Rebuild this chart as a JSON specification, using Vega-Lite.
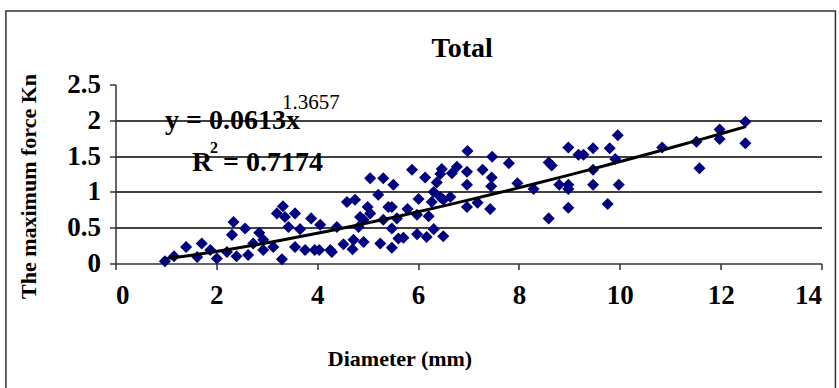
{
  "$schema": "https://vega.github.io/schema/vega-lite/v6.json",
  "autosize": {"type": "none"},
  "padding": {"left": 115.5, "top": 84.5, "right": 17.5, "bottom": 124.5},
  "width": 706,
  "height": 179,
  "config": {
    "view": {"stroke": null},
    "font": "Liberation Serif",
    "axis": {
      "labelFont": "Liberation Serif", "labelFontWeight": "bold", "labelFontSize": 27, "labelColor": "black",
      "titleFont": "Liberation Serif", "titleFontWeight": "bold", "titleFontSize": 22, "titleColor": "black",
      "domainColor": "#333", "domainWidth": 1.5, "tickColor": "#333", "tickWidth": 1.5, "tickSize": 6,
      "labelOverlap": false, "format": "~g"
    }
  },
  "datasets": {
    "one": [{}],
    "pts": [
      {"d":0.98,"f":0.03},{"d":1.16,"f":0.10},{"d":1.40,"f":0.23},{"d":1.62,"f":0.09},{"d":1.71,"f":0.28},{"d":1.88,"f":0.19},{"d":2.01,"f":0.07},{"d":2.21,"f":0.16},{"d":2.34,"f":0.58},{"d":2.31,"f":0.40},{"d":2.40,"f":0.10},{"d":2.57,"f":0.49},{"d":2.63,"f":0.12},{"d":2.73,"f":0.28},{"d":2.85,"f":0.43},{"d":2.93,"f":0.19},{"d":2.93,"f":0.33},{"d":3.13,"f":0.23},{"d":3.32,"f":0.80},{"d":3.30,"f":0.06},{"d":3.36,"f":0.65},{"d":3.20,"f":0.70},{"d":3.56,"f":0.70},{"d":3.43,"f":0.51},{"d":3.66,"f":0.48},{"d":3.88,"f":0.63},{"d":3.56,"f":0.23},{"d":3.76,"f":0.19},{"d":3.95,"f":0.19},{"d":4.04,"f":0.19},{"d":4.26,"f":0.19},{"d":4.06,"f":0.54},{"d":4.39,"f":0.51},{"d":4.59,"f":0.86},{"d":4.75,"f":0.89},{"d":4.52,"f":0.27},{"d":4.72,"f":0.33},{"d":4.70,"f":0.20},{"d":4.92,"f":0.30},{"d":4.92,"f":0.61},{"d":4.82,"f":0.51},{"d":5.00,"f":0.79},{"d":5.05,"f":0.70},{"d":5.41,"f":0.79},{"d":5.31,"f":0.61},{"d":5.25,"f":0.28},{"d":5.48,"f":0.22},{"d":5.61,"f":0.35},{"d":5.05,"f":1.19},{"d":5.31,"f":1.19},{"d":5.51,"f":1.10},{"d":5.21,"f":0.96},{"d":4.29,"f":0.16},{"d":4.85,"f":0.65},
      {"d":5.88,"f":1.31},{"d":6.14,"f":1.20},{"d":6.47,"f":1.32},{"d":6.44,"f":1.25},{"d":6.77,"f":1.35},{"d":6.67,"f":1.26},{"d":6.98,"f":1.57},{"d":6.97,"f":1.28},{"d":7.28,"f":1.31},{"d":7.46,"f":1.20},{"d":7.47,"f":1.49},{"d":7.80,"f":1.40},{"d":6.37,"f":1.13},{"d":6.97,"f":1.10},{"d":7.45,"f":1.08},{"d":7.97,"f":1.12},{"d":6.31,"f":1.00},{"d":6.44,"f":0.93},{"d":6.50,"f":0.89},{"d":6.27,"f":0.86},{"d":6.01,"f":0.90},{"d":6.97,"f":0.79},{"d":7.18,"f":0.85},{"d":7.43,"f":0.76},{"d":6.64,"f":0.93},{"d":5.48,"f":0.79},{"d":5.79,"f":0.76},{"d":5.98,"f":0.68},{"d":6.21,"f":0.66},{"d":5.58,"f":0.63},{"d":5.71,"f":0.36},{"d":5.98,"f":0.41},{"d":6.17,"f":0.37},{"d":6.31,"f":0.48},{"d":6.50,"f":0.38},{"d":5.48,"f":0.49},
      {"d":8.29,"f":1.04},{"d":8.59,"f":1.41},{"d":8.65,"f":1.37},{"d":8.98,"f":1.62},{"d":9.18,"f":1.52},{"d":9.28,"f":1.52},{"d":9.47,"f":1.61},{"d":9.80,"f":1.61},{"d":9.96,"f":1.79},{"d":9.91,"f":1.46},{"d":9.47,"f":1.31},{"d":8.80,"f":1.10},{"d":8.98,"f":1.10},{"d":8.98,"f":1.04},{"d":9.47,"f":1.10},{"d":9.98,"f":1.10},{"d":8.98,"f":0.78},{"d":9.76,"f":0.83},{"d":8.59,"f":0.63},{"d":10.84,"f":1.62},{"d":11.52,"f":1.70},{"d":11.58,"f":1.33},{"d":11.98,"f":1.87},{"d":11.98,"f":1.74},{"d":12.49,"f":1.98},{"d":12.49,"f":1.68}
    ]
  },
  "layer": [
    {
      "data": {"name": "pts"},
      "mark": {"type": "point", "shape": "diamond", "filled": true, "size": 145, "color": "#000080", "opacity": 1},
      "encoding": {
        "x": {"field": "d", "type": "quantitative", "scale": {"domain": [0, 14], "nice": false, "zero": false},
          "axis": {"values": [0,2,4,6,8,10,12,14], "grid": false, "title": "Diameter (mm)", "labelPadding": 13, "titleX": 284, "titleY": 94.5, "titleBaseline": "middle", "titleAlign": "center"}},
        "y": {"field": "f", "type": "quantitative", "scale": {"domain": [0, 2.5], "nice": false},
          "axis": {"values": [0,0.5,1,1.5,2,2.5], "tickCount": 6, "labelOverlap": false, "labelFlush": false, "labelBound": false, "format": "~g", "title": "The maximum force Kn", "labelPadding": 9, "labelBaseline": "middle",
            "grid": true, "gridColor": "black", "gridWidth": 1.5,
            "gridOpacity": {"condition": {"test": "datum.value >= 2.5 || datum.value <= 0", "value": 0}, "value": 1},
            "titleX": -87.5, "titleY": 101.5, "titleBaseline": "middle", "titleAlign": "center", "titleAngle": -90}}
      }
    },
    {
      "data": {"name": "one"},
      "mark": {"type": "rect", "fill": null, "stroke": "#333", "strokeWidth": 1.5, "clip": false},
      "encoding": {
        "x": {"datum": -2.173, "type": "quantitative"},
        "x2": {"datum": 14.276},
        "y": {"datum": 3.527, "type": "quantitative"},
        "y2": {"datum": -2.6}
      }
    },
    {
      "data": {"name": "pts"},
      "transform": [{"regression": "f", "on": "d", "method": "pow", "extent": [0.98, 12.5]}],
      "mark": {"type": "line", "color": "black", "strokeWidth": 3},
      "encoding": {
        "x": {"field": "d", "type": "quantitative"},
        "y": {"field": "f", "type": "quantitative"}
      }
    },
    {
      "data": {"name": "one"},
      "mark": {"type": "text", "text": "Total", "align": "center", "baseline": "middle", "font": "Liberation Serif", "fontWeight": "bold", "fontSize": 28, "color": "black"},
      "encoding": {"x": {"datum": 6.875, "type": "quantitative"}, "y": {"datum": 3.0, "type": "quantitative"}}
    },
    {
      "data": {"name": "one"},
      "mark": {"type": "text", "text": "y = 0.0613x", "align": "left", "baseline": "middle", "font": "Liberation Serif", "fontWeight": "bold", "fontSize": 28, "color": "black"},
      "encoding": {"x": {"datum": 0.982, "type": "quantitative"}, "y": {"datum": 1.99, "type": "quantitative"}}
    },
    {
      "data": {"name": "one"},
      "mark": {"type": "text", "text": "1.3657", "align": "left", "baseline": "middle", "font": "Liberation Serif", "fontWeight": "normal", "fontSize": 21, "color": "black"},
      "encoding": {"x": {"datum": 3.30, "type": "quantitative"}, "y": {"datum": 2.24, "type": "quantitative"}}
    },
    {
      "data": {"name": "one"},
      "mark": {"type": "text", "text": "R", "align": "left", "baseline": "middle", "font": "Liberation Serif", "fontWeight": "bold", "fontSize": 28, "color": "black"},
      "encoding": {"x": {"datum": 1.518, "type": "quantitative"}, "y": {"datum": 1.41, "type": "quantitative"}}
    },
    {
      "data": {"name": "one"},
      "mark": {"type": "text", "text": "2", "align": "center", "baseline": "middle", "font": "Liberation Serif", "fontWeight": "bold", "fontSize": 16, "color": "black"},
      "encoding": {"x": {"datum": 1.954, "type": "quantitative"}, "y": {"datum": 1.613, "type": "quantitative"}}
    },
    {
      "data": {"name": "one"},
      "mark": {"type": "text", "text": "= 0.7174", "align": "left", "baseline": "middle", "font": "Liberation Serif", "fontWeight": "bold", "fontSize": 28, "color": "black"},
      "encoding": {"x": {"datum": 2.133, "type": "quantitative"}, "y": {"datum": 1.41, "type": "quantitative"}}
    }
  ]
}
